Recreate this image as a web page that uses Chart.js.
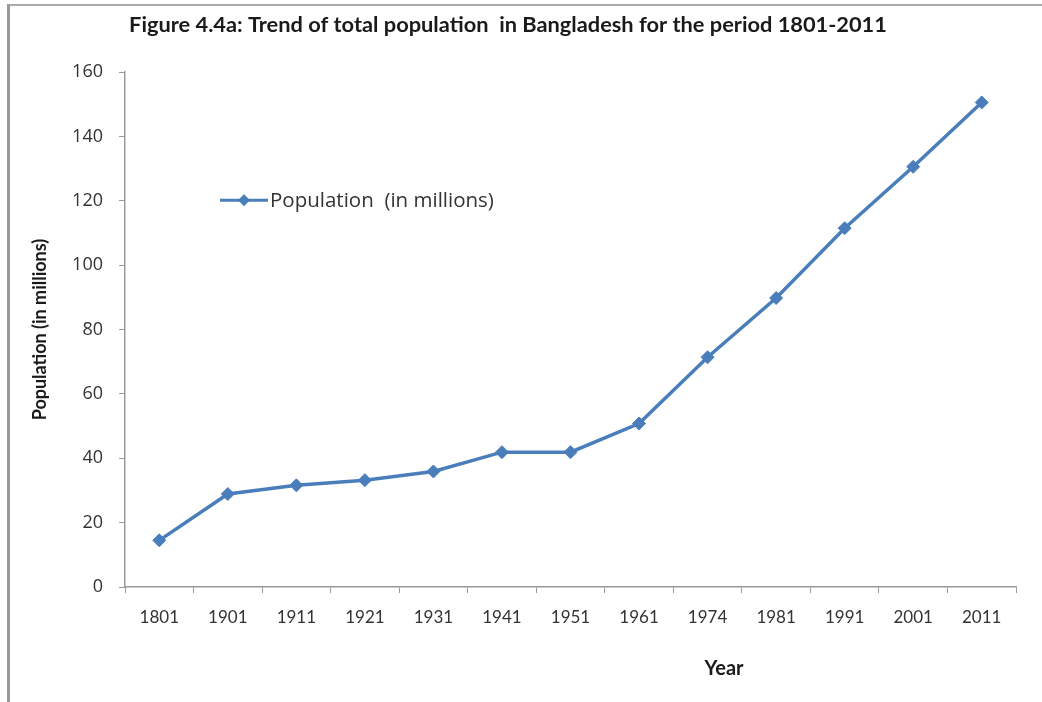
<!DOCTYPE html>
<html>
<head>
<meta charset="utf-8">
<script src="https://cdn.jsdelivr.net/npm/chart.js@4/dist/chart.umd.min.js"></script>
<style>
  body { margin: 0; background: #fff; }
  #wrap { position: relative; width: 1042px; height: 702px; }
  #frame { position: absolute; left: 7px; top: 4px; right: 0; bottom: 0;
           border-left: 3px solid #999; border-top: 2px solid #aaa; pointer-events: none; }
  canvas { position: absolute; left: 0; top: 0; }
</style>
</head>
<body>
<div id="wrap">
  <canvas id="myChart" width="1042" height="702"></canvas>
  <div id="frame"></div>
</div>
<script>
var years = ['1801', '1901', '1911', '1921', '1931', '1941', '1951', '1961', '1974', '1981', '1991', '2001', '2011'];
var population = [14.5, 28.9, 31.6, 33.2, 35.9, 41.9, 41.9, 50.8, 71.4, 89.8, 111.5, 130.6, 150.6];
var yTicks = [0, 20, 40, 60, 80, 100, 120, 140, 160];

var lineColor = '#4a7ebb';
var axisColor = '#9a9a9a';

// legend box sits inside the plot in the original, so draw it by hand
var insideLegend = {
    id: 'insideLegend',
    afterDraw: function (chart) {
        var c = chart.ctx;
        var a = chart.chartArea;
        var ds = chart.data.datasets[0];
        var x = a.left + 95, y = a.top + 128;
        c.save();
        c.strokeStyle = ds.borderColor;
        c.lineWidth = 3;
        c.beginPath();
        c.moveTo(x, y);
        c.lineTo(x + 48, y);
        c.stroke();
        c.fillStyle = ds.backgroundColor;
        c.beginPath();
        c.moveTo(x + 24 - 6, y);
        c.lineTo(x + 24, y - 6);
        c.lineTo(x + 24 + 6, y);
        c.lineTo(x + 24, y + 6);
        c.closePath();
        c.fill();
        c.fillStyle = '#333';
        c.font = '20.5px "Open Sans"';
        c.textBaseline = 'middle';
        c.fillText(ds.label, x + 50, y + 1);
        // x axis title sits right of centre in the original
        c.font = 'bold 20px Lato';
        c.fillStyle = '#1a1a1a';
        c.textAlign = 'center';
        c.fillText('Year', a.right - 292, a.bottom + 82);
        c.restore();
    }
};

var ctx = document.getElementById('myChart').getContext('2d');
var myChart = new Chart(ctx, {
    type: 'line',
    data: {
        labels: years,
        datasets: [{
            label: 'Population  (in millions)',
            data: population,
            borderColor: lineColor,
            backgroundColor: lineColor,
            borderWidth: 3.5,
            pointStyle: 'rectRot',
            pointRadius: 6.5,
            pointBorderWidth: 1,
            tension: 0
        }]
    },
    options: {
        responsive: false,
        animation: false,
        layout: {
            padding: { left: 0, right: 26, top: 0, bottom: 0 }
        },
        plugins: {
            legend: { display: false },
            tooltip: { enabled: false },
            title: {
                display: true,
                text: 'Figure 4.4a: Trend of total population  in Bangladesh for the period 1801-2011',
                color: '#1a1a1a',
                font: { family: 'Lato', size: 21.8, weight: 'bold' },
                padding: { top: 12, bottom: 34 }
            }
        },
        scales: {
            x: {
                offset: true,
                grid: {
                    offset: true,
                    drawOnChartArea: false,
                    drawTicks: true,
                    tickLength: 6,
                    color: axisColor
                },
                border: { display: true, color: axisColor, width: 1.5 },
                ticks: {
                    color: '#333',
                    font: { family: 'Lato', size: 17 },
                    padding: 14,
                    maxRotation: 0,
                    autoSkip: false
                },
                afterFit: function (s) { s.height = 115; }
            },
            y: {
                min: 0,
                max: 160,
                afterBuildTicks: function (s) {
                    s.ticks = yTicks.map(function (v) { return { value: v }; });
                },
                grid: {
                    drawOnChartArea: false,
                    drawTicks: true,
                    tickLength: 6,
                    color: axisColor
                },
                border: { display: true, color: axisColor, width: 1.5 },
                ticks: {
                    color: '#333',
                    font: { family: '"Open Sans"', size: 18 },
                    padding: 16
                },
                title: {
                    display: true,
                    text: 'Population (in millions)',
                    color: '#1a1a1a',
                    font: { family: 'Lato', size: 18, weight: 'bold' },
                    padding: { top: 29, bottom: 0 }
                },
                afterFit: function (s) { s.width = 125; }
            }
        }
    },
    plugins: [insideLegend]
});
</script>
</body>
</html>
